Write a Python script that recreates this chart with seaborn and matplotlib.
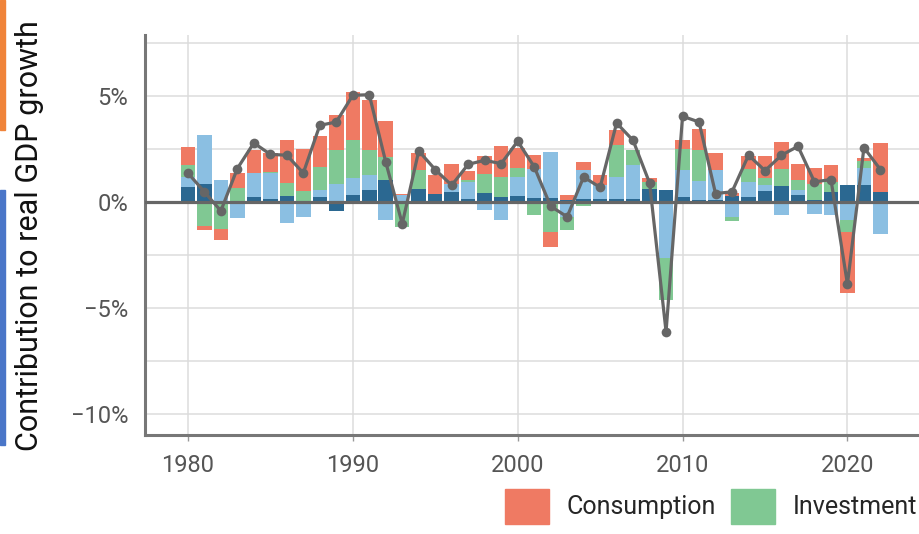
import numpy as np
import matplotlib
matplotlib.use("Agg")
import matplotlib.pyplot as plt
from matplotlib.patches import Patch, Rectangle
from matplotlib.ticker import MultipleLocator, FuncFormatter
import seaborn as sns

# contributions to real GDP growth, percentage points
years = list(range(1980, 2023))
government = [0.70, 0.88, 0.00, 0.05, 0.25, 0.15, 0.28, 0.05, 0.25, -0.41,
              0.33, 0.57, 1.04, 0.00, 0.64, 0.41, 0.49, 0.15, 0.44, 0.25,
              0.31, 0.22, 0.22, 0.10, 0.17, 0.17, 0.17, 0.17, 0.64, 0.57,
              0.25, 0.12, 0.12, 0.28, 0.25, 0.55, 0.78, 0.33, 0.12, 0.49,
              0.80, 0.80, 0.50]
net_exports = [0.48, 2.28, 1.04, -0.74, 1.13, 1.23, -1.00, -0.71, 0.32, 0.85,
               0.79, 0.70, -0.85, 0.33, 0.00, 0.00, 0.36, 0.81, -0.35, -0.85,
               0.88, 1.37, 2.16, -0.69, 1.33, 0.63, 1.02, 1.58, 0.00, -2.66,
               1.25, 0.88, 1.38, -0.69, 0.71, 0.24, -0.61, 0.24, -0.57, -0.61,
               -0.85, 0.83, -1.48]
investment = [0.56, -1.13, -1.27, 0.62, 0.00, 0.06, 0.63, 0.50, 1.10, 1.60,
              1.80, 1.21, 1.10, -1.16, 0.86, 0.00, 0.00, 0.08, 0.91, 0.94,
              0.44, -0.61, -1.40, -0.63, -0.19, 0.00, 1.50, 0.73, 0.32, -1.96,
              1.03, 1.45, 0.00, -0.19, 0.63, 0.33, 0.77, 0.50, 0.73, 0.47,
              -0.55, 0.32, 0.00]
consumption = [0.86, -0.19, -0.52, 0.73, 1.07, 0.90, 2.05, 1.95, 1.44, 1.65,
               2.28, 2.36, 1.68, 0.07, 0.83, 0.86, 0.97, 0.42, 0.82, 1.47,
               0.95, 0.66, -0.70, 0.23, 0.40, 0.47, 0.74, -0.09, 0.20, 0.00,
               0.43, 1.02, 0.83, 0.16, 0.58, 1.05, 1.28, 0.75, 0.78, 0.79,
               -2.91, 0.16, 2.30]
gdp_growth = [1.38, 0.49, -0.41, 1.59, 2.80, 2.26, 2.22, 1.38, 3.63, 3.79,
              5.05, 5.08, 1.90, -1.02, 2.42, 1.54, 0.80, 1.79, 1.98, 1.82,
              2.88, 1.68, -0.19, -0.69, 1.19, 0.70, 3.74, 2.92, 0.91, -6.12,
              4.06, 3.79, 0.41, 0.49, 2.22, 1.49, 2.22, 2.64, 0.96, 1.07,
              -3.87, 2.58, 1.54]

# stacking order, outward from zero
stack = [("Government", government, "#2b6891"),
         ("Net exports", net_exports, "#8bbfe2"),
         ("Investment", investment, "#80c893"),
         ("Consumption", consumption, "#ef7a63")]
legend_names = ["Consumption", "Investment"]

sns.set_theme(style="whitegrid")
plt.rcParams["font.family"] = ["Roboto", "DejaVu Sans"]

fig = plt.figure(figsize=(9.2, 5.34), dpi=100)
ax = fig.add_axes([145 / 920, 1 - 435 / 534, 1 - 145 / 920, 400 / 534])

pos_base = np.zeros(len(years))
neg_base = np.zeros(len(years))
for name, vals, col in stack:
    v = np.array(vals)
    bottom = np.where(v >= 0, pos_base, neg_base)
    ax.bar(years, v, bottom=bottom, width=0.88, color=col, linewidth=0, zorder=2)
    pos_base += np.clip(v, 0, None)
    neg_base += np.clip(v, None, 0)

ax.axhline(0, color="#666666", lw=2.3, zorder=3)
sns.lineplot(x=years, y=gdp_growth, color="#666666", lw=2.3, marker="o",
             markersize=7, markeredgewidth=0, ax=ax, zorder=4)

ax.set_xlim(1977.4, 2024.4)
ax.set_ylim(-11, 7.9)
ax.set_xticks([1980, 1990, 2000, 2010, 2020])
ax.yaxis.set_major_locator(MultipleLocator(5))
ax.yaxis.set_minor_locator(MultipleLocator(2.5))
ax.yaxis.set_major_formatter(FuncFormatter(lambda v, p: f"{v:.0f}%".replace("-", "\u2212")))

ax.grid(which="major", color="#dcdcdc", lw=1.1)
ax.grid(which="minor", axis="y", color="#dcdcdc", lw=1.1)
ax.set_axisbelow(True)
for s in ["top", "right"]:
    ax.spines[s].set_visible(False)
for s in ["left", "bottom"]:
    ax.spines[s].set_color("#777777")
    ax.spines[s].set_linewidth(2.2)

ax.tick_params(axis="y", which="both", length=0, pad=12, labelsize=17, labelcolor="#555555")
ax.tick_params(axis="x", length=4, width=1, color="#999999", pad=10, labelsize=17,
               labelcolor="#555555", bottom=True)
ax.set_xlabel("")
ax.set_ylabel("")

fig.text(30 / 920, 1 - 236 / 534, "Contribution to real GDP growth", rotation=90,
         ha="center", va="center", fontsize=22, color="#111111")

colors = {name: col for name, vals, col in stack}
handles = [Patch(color=colors[n], label=n) for n in legend_names]
fig.legend(handles=handles, loc="upper left", bbox_to_anchor=(505 / 920, 1 - 489 / 534),
           ncol=2, frameon=False, fontsize=18, handlelength=1.75, handleheight=1.75,
           handletextpad=0.72, columnspacing=0.6, borderaxespad=0, borderpad=0)

# coloured edge strips from the source page
fig.patches.append(Rectangle((0, 1 - 130 / 534), 5 / 920, 130 / 534,
                             transform=fig.transFigure, color="#f0843a", zorder=5))
fig.patches.append(Rectangle((0, 1 - 445 / 534), 5 / 920, 255 / 534,
                             transform=fig.transFigure, color="#4a76c8", zorder=5))

fig.savefig("out.png", dpi=100)
